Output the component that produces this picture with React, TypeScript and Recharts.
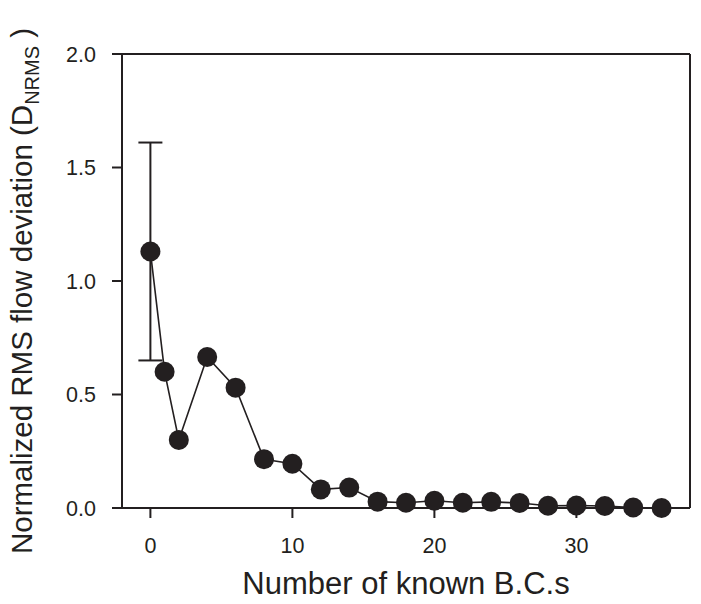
import React from 'react';
import { ComposedChart, Line, XAxis, YAxis, ErrorBar, ReferenceLine } from 'recharts';

const knownBCs = [0, 1, 2, 4, 6, 8, 10, 12, 14, 16, 18, 20, 22, 24, 26, 28, 30, 32, 34, 36];
const deviation = [1.13, 0.6, 0.3, 0.665, 0.53, 0.215, 0.195, 0.082, 0.09, 0.028, 0.023, 0.032, 0.023, 0.027, 0.022, 0.01, 0.011, 0.009, 0.002, 0.0];
const errors = [0.48];
const xTicks = [0, 10, 20, 30];
const yTicks = [0, 0.5, 1.0, 1.5, 2.0];

const data = knownBCs.map((n, i) => ({ n, d: deviation[i], err: errors[i] }));

const ink = '#231f20';
const font = 'Liberation Sans, Arial, Helvetica, sans-serif';

const Dot = (props: any) => {
  const { cx, cy, index } = props;
  if (cx == null || cy == null) return null;
  return <circle key={index} cx={cx} cy={cy} r={10} fill={ink} />;
};

const YLabel = (props: any) => {
  const { viewBox } = props;
  const cx = viewBox.x + 32;
  const cy = viewBox.y + viewBox.height / 2 + 10;
  return (
    <text
      x={cx}
      y={cy}
      transform={`rotate(-90, ${cx}, ${cy})`}
      textAnchor="middle"
      fontFamily={font}
      fontSize={29.5}
      fill={ink}
    >
      Normalized RMS flow deviation (D
      <tspan fontSize={20} dy={7}>NRMS</tspan>
      <tspan dy={-7}> )</tspan>
    </text>
  );
};

const XLabel = (props: any) => {
  const { viewBox } = props;
  return (
    <text
      x={viewBox.x + viewBox.width / 2}
      y={594}
      textAnchor="middle"
      fontFamily={font}
      fontSize={31}
      fill={ink}
    >
      Number of known B.C.s
    </text>
  );
};

export default function App() {
  return (
    <div style={{ position: 'absolute', left: 0, top: 0, background: '#fff' }}>
      <ComposedChart width={701} height={604} data={data} margin={{ top: 54, right: 11, bottom: 0, left: 0 }}>
        <XAxis
          dataKey="n"
          type="number"
          domain={[-2, 38]}
          ticks={xTicks}
          height={96}
          stroke={ink}
          strokeWidth={2}
          tickSize={10}
          tickMargin={20}
          tick={{ fill: ink, fontSize: 21.5, fontFamily: font }}
          label={<XLabel />}
        />
        <YAxis
          type="number"
          domain={[0, 2]}
          ticks={yTicks}
          width={122}
          stroke={ink}
          strokeWidth={2}
          tickSize={10}
          tickMargin={16}
          tickFormatter={(v: number) => v.toFixed(1)}
          tick={{ fill: ink, fontSize: 21.5, fontFamily: font }}
          label={<YLabel />}
        />
        <ReferenceLine y={2} stroke={ink} strokeWidth={2} />
        <ReferenceLine x={38} stroke={ink} strokeWidth={2} />
        <Line
          dataKey="d"
          stroke={ink}
          strokeWidth={1.6}
          dot={<Dot />}
          activeDot={false}
          isAnimationActive={false}
        >
          <ErrorBar dataKey="err" width={12} stroke={ink} strokeWidth={2} />
        </Line>
      </ComposedChart>
    </div>
  );
}
